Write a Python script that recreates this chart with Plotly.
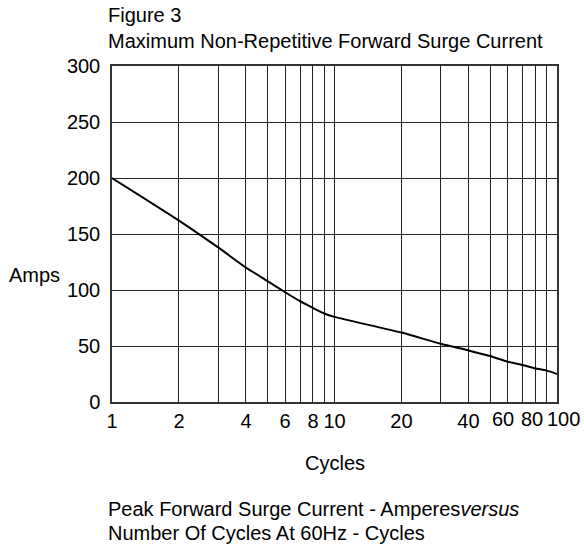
import math
import plotly.graph_objects as go

# Data
cycles = [1, 2, 3, 4, 5, 6, 7, 8, 9, 10, 20, 30, 40, 50, 60, 70, 80, 90, 100]
amps = [200, 162, 138, 120, 108, 98, 90, 84, 79, 76, 62, 52, 46, 41, 36, 33, 30, 28, 25]

x_grid_vals = [1, 2, 3, 4, 5, 6, 7, 8, 9, 10, 20, 30, 40, 50, 60, 70, 80, 90, 100]
x_grid_text = ["1", "2", "", "4", "", "6", "", "8", "", "10", "20", "", "40", "",
               "", "", "", "", ""]
# crowded labels at the right end, drawn as annotations on the x axis
x_end_labels = [60, 80, 100]
x_end_shift = [-5, -3, 6]
y_tick_vals = [0, 50, 100, 150, 200, 250, 300]

FONT = "Liberation Sans, Arial, sans-serif"
TXT = dict(family=FONT, size=20, color="black")

L, R, T, B = 112, 557, 66, 402
W, H = 584, 546


def px(x):
    return (x - L) / (R - L)


def py(y):
    return (B - y) / (B - T)


fig = go.Figure()
fig.add_trace(go.Scatter(
    x=cycles, y=amps, mode="lines",
    line=dict(color="black", width=2, shape="spline", smoothing=0.6),
    showlegend=False, hoverinfo="skip",
))

annotations = [
    dict(text="Figure 3", xref="paper", yref="paper",
         x=px(106), y=py(15), xanchor="left", yanchor="middle",
         showarrow=False, font=TXT),
    dict(text="Maximum Non-Repetitive Forward Surge Current",
         xref="paper", yref="paper",
         x=px(106), y=py(41), xanchor="left", yanchor="middle",
         showarrow=False, font=TXT),
    dict(text="Amps", xref="paper", yref="paper",
         x=px(34), y=py(275),
         xanchor="center", yanchor="middle", showarrow=False, font=TXT),
    dict(text="Cycles", xref="paper", yref="paper",
         x=px(335), y=py(463),
         xanchor="center", yanchor="middle", showarrow=False, font=TXT),
    dict(text="Peak Forward Surge Current - Amperes<i>versus</i>",
         xref="paper", yref="paper",
         x=px(106), y=py(509), xanchor="left", yanchor="middle",
         showarrow=False, font=TXT),
    dict(text="Number Of Cycles At 60Hz - Cycles",
         xref="paper", yref="paper",
         x=px(106), y=py(533), xanchor="left", yanchor="middle",
         showarrow=False, font=TXT),
]
for v, s in zip(x_end_labels, x_end_shift):
    annotations.append(dict(
        text=str(v), xref="x", yref="paper", x=math.log10(v), y=py(419),
        xanchor="center", yanchor="middle", xshift=s,
        showarrow=False, font=TXT, borderpad=0))

fig.update_layout(
    width=W, height=H,
    margin=dict(l=L, r=W - R, t=T, b=H - B),
    paper_bgcolor="white", plot_bgcolor="white",
    font=TXT,
    xaxis=dict(
        type="log", range=[0, 2],
        tickmode="array", tickvals=x_grid_vals, ticktext=x_grid_text,
        tickangle=0,
        showgrid=True, gridcolor="#222", gridwidth=1.3,
        showline=True, linecolor="#333", linewidth=1.5, mirror=True,
        ticks="", zeroline=False,
        tickfont=TXT,
    ),
    yaxis=dict(
        range=[0, 300], tickmode="array", tickvals=y_tick_vals,
        showgrid=True, gridcolor="#222", gridwidth=1.3,
        showline=True, linecolor="#333", linewidth=1.5, mirror=True,
        ticks="", zeroline=False, ticklabelstandoff=6,
        tickfont=TXT,
    ),
    annotations=annotations,
)

fig.write_html(
    "out.html",
    config={"displayModeBar": False},
    post_script="document.body.style.margin='0';document.body.style.overflow='hidden';",
)
